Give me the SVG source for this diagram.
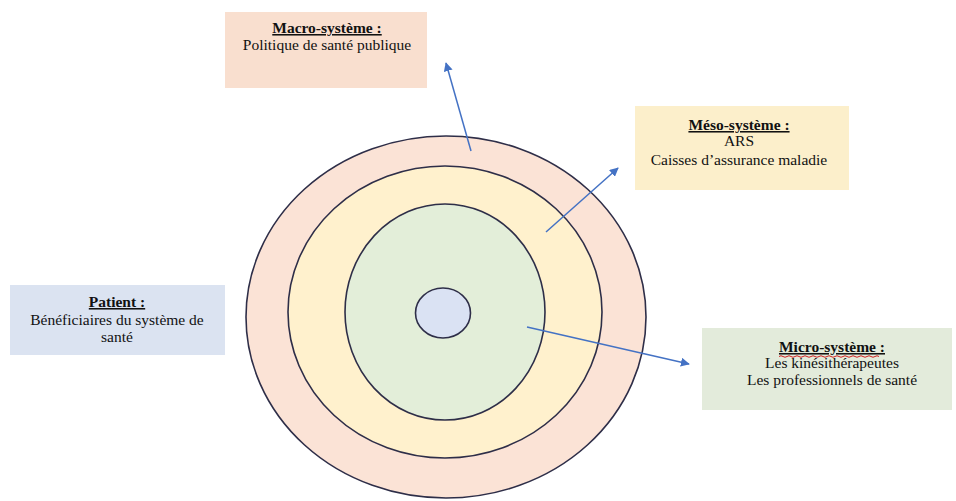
<svg xmlns="http://www.w3.org/2000/svg" width="956" height="501" viewBox="0 0 956 501">
  <defs>
    <marker id="arrow" viewBox="0 0 10 10" refX="9" refY="5" markerWidth="9" markerHeight="9" markerUnits="userSpaceOnUse" orient="auto">
      <path d="M0,0 L10,5 L0,10 z" fill="#4472c4"/>
    </marker>
    <style>
      .ring { stroke: #2e2e48; stroke-width: 1.6; }
      .box { stroke: none; }
      .t { font-family: "Liberation Serif", "Times New Roman", serif; font-size: 15.5px; fill: #111; text-anchor: middle; }
      .h { font-weight: bold; text-decoration: underline; }
      .conn { stroke: #4472c4; stroke-width: 1.5; fill: none; marker-end: url(#arrow); }
    </style>
  </defs>

  <rect width="956" height="501" fill="#ffffff"/>

  <!-- concentric levels -->
  <g id="levels">
    <ellipse id="macro-ring" class="ring" cx="446" cy="317" rx="200" ry="181" fill="#fbe3d6"/>
    <ellipse id="meso-ring" class="ring" cx="445" cy="312" rx="157" ry="146" fill="#fff1cd"/>
    <ellipse id="micro-ring" class="ring" cx="445" cy="312" rx="100" ry="108" fill="#e3eed9"/>
    <ellipse id="patient-core" class="ring" cx="443" cy="313" rx="27.5" ry="25" fill="#dae2f3"/>
  </g>

  <!-- connectors -->
  <g id="connectors">
    <line class="conn" x1="471" y1="151" x2="446" y2="63"/>
    <line class="conn" x1="546" y1="232" x2="618" y2="168"/>
    <line class="conn" x1="527" y1="327" x2="689" y2="364"/>
  </g>

  <g id="macro">
    <rect class="box" x="225" y="12" width="202" height="76" fill="#f9dfcf"/>
    <text class="t h" x="327" y="33">Macro-système :</text>
    <text class="t" x="327" y="50">Politique de santé publique</text>
  </g>

  <g id="meso">
    <rect class="box" x="635" y="106" width="214" height="84" fill="#fcefcb"/>
    <text class="t h" x="739" y="130">Méso-système :</text>
    <text class="t" x="739" y="146">ARS</text>
    <text class="t" x="739" y="165">Caisses d’assurance maladie</text>
  </g>

  <g id="patient">
    <rect class="box" x="10" y="285" width="215" height="70" fill="#dbe3f1"/>
    <text class="t h" x="117" y="307">Patient :</text>
    <text class="t" x="117" y="325">Bénéficiaires du système de</text>
    <text class="t" x="117" y="342">santé</text>
  </g>

  <g id="micro">
    <rect class="box" x="702" y="328" width="250" height="82" fill="#e3ebdb"/>
    <text class="t h" x="832" y="352">Micro-système :</text>
    <path d="M779,356.5 q2,-1.5 4,0 t4,0 t4,0 t4,0 t4,0 t4,0 t4,0 t4,0 t4,0 t4,0 t4,0 t4,0 t4,0 t4,0 t4,0 t4,0 t4,0 t4,0 t4,0 t4,0 t4,0 t4,0 t4,0 t4,0 t4,0" stroke="#d02020" stroke-width="1" fill="none"/>
    <text class="t" x="832" y="368">Les kinésithérapeutes</text>
    <text class="t" x="832" y="385">Les professionnels de santé</text>
  </g>
</svg>
